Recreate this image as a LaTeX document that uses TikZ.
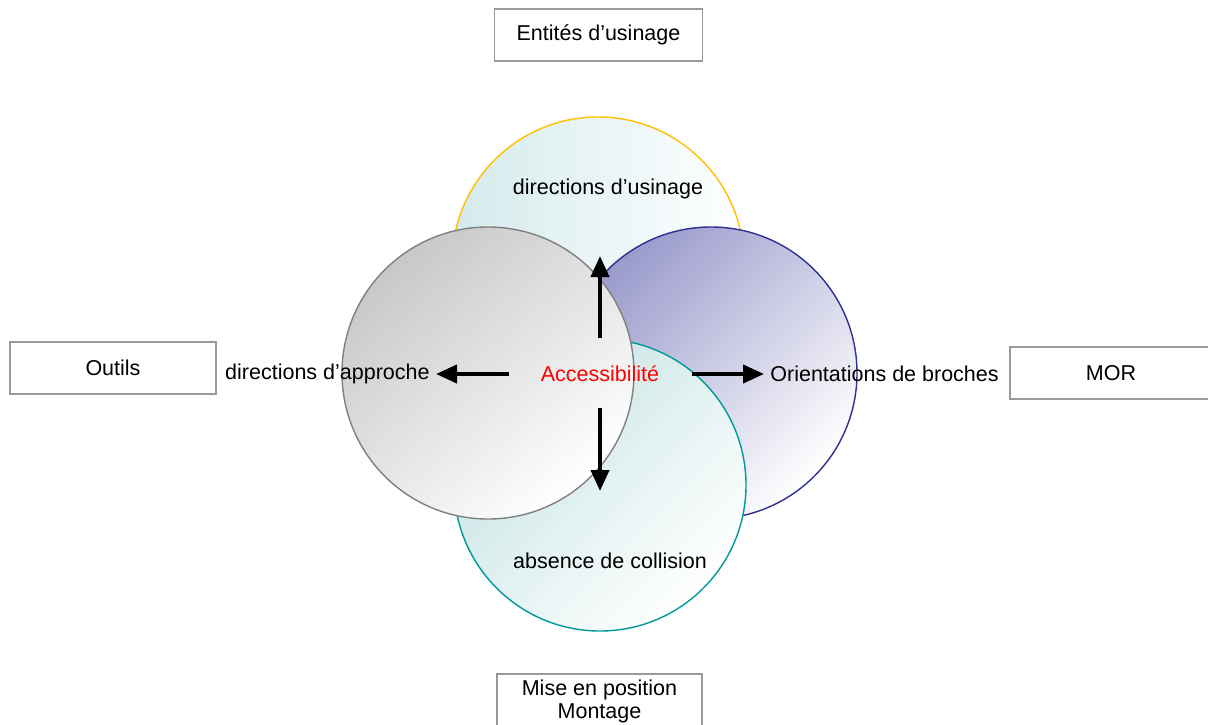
\documentclass[tikz,border=0pt]{standalone}
\usepackage{fontspec}
\setmainfont{Liberation Sans}
\usetikzlibrary{arrows.meta}
\definecolor{cyel}{HTML}{FFC000}
\definecolor{cnavy}{HTML}{2E3192}
\definecolor{cteal}{HTML}{009999}
\definecolor{cgray}{HTML}{808080}
\definecolor{fcyan}{HTML}{D4EAEC}
\definecolor{fblue}{HTML}{9A9ACC}
\definecolor{fteal}{HTML}{C4E2E2}
\definecolor{fgray}{HTML}{C8C8C8}
\definecolor{boxgray}{HTML}{999999}
\begin{document}
\begin{tikzpicture}[x=0.5pt,y=-0.5pt,
  font=\fontsize{10.75pt}{13pt}\selectfont,
  bubble/.style={circle,minimum size=146pt,inner sep=0pt,line width=0.7pt},
  labelbox/.style={draw=boxgray,line width=0.6pt,minimum height=26pt,inner sep=0pt,align=center},
  plain/.style={inner sep=2pt},
  bigarrow/.style={line width=2pt,-{Triangle[length=10.5pt,width=9pt]}}]
\useasboundingbox (0,0) rectangle (1208,724);
\clip (0,0) rectangle (1208,724);
% circles
\node[bubble,draw=cyel,left color=fcyan,right color=white] (cu) at (598,263) {};
\node[bubble,draw=cnavy,top color=fblue,bottom color=white,shading angle=45] (cb) at (711,373) {};
\node[bubble,draw=cteal,top color=fteal,bottom color=white,shading angle=45] (cc) at (600,485) {};
\node[bubble,draw=cgray,top color=fgray,bottom color=white,shading angle=40] (ca) at (488,373) {};
% boxes
\node[labelbox,minimum width=104pt] (bent) at (598.5,35) {Entités d’usinage};
\node[labelbox,minimum width=103pt] (bout) at (113,368) {Outils};
\node[labelbox,minimum width=101pt] (bmor) at (1111,373) {MOR};
\node[labelbox,minimum width=102.5pt,minimum height=27pt] (bmis) at (599.5,701) {Mise en position\\[-1.5pt]Montage};
% labels
\node[plain] (lu) at (608,189) {directions d’usinage};
\node[plain] (lc) at (610,561) {absence de collision};
\node[plain,anchor=east] (la) at (434,374) {directions d’approche};
\node[plain,anchor=west] (lb) at (766,374) {Orientations de broches};
\node[plain,text={rgb,255:red,255;green,0;blue,0}] (acc) at (600,374) {Accessibilité};
% arrows
\coordinate (su) at (600,338); \coordinate (tu) at (600,256);
\coordinate (sl) at (509,374); \coordinate (tl) at (436,374);
\coordinate (sr) at (692,374); \coordinate (tr) at (764,374);
\coordinate (sd) at (600,408); \coordinate (td) at (600,491);
\draw[bigarrow] (su) -- (tu);
\draw[bigarrow] (sl) -- (tl);
\draw[bigarrow] (sr) -- (tr);
\draw[bigarrow] (sd) -- (td);
\end{tikzpicture}
\end{document}
